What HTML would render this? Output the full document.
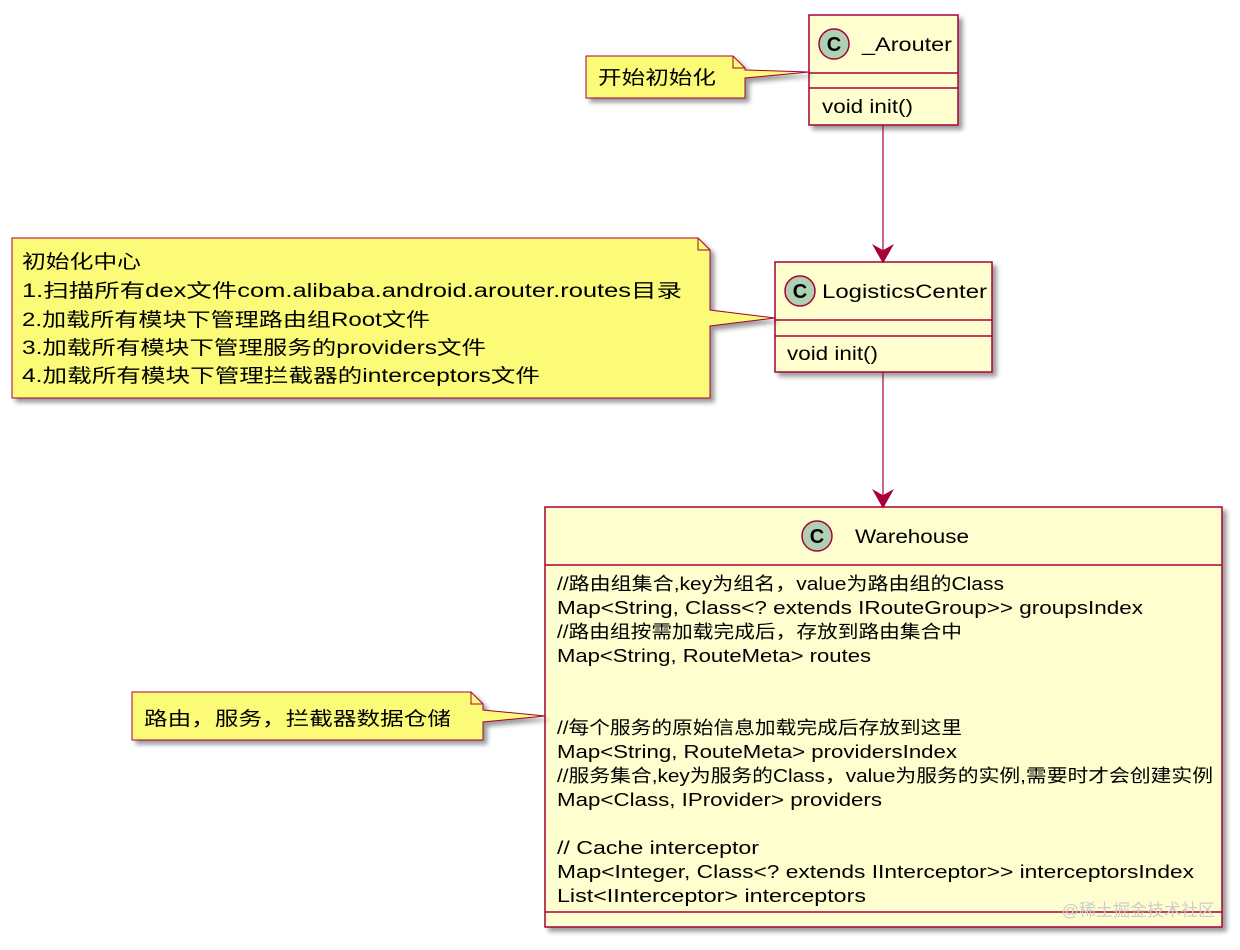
<!DOCTYPE html>
<html><head><meta charset="utf-8"><style>
html,body{margin:0;padding:0;background:#fff;}
svg text{font-family:"Liberation Sans","Noto Sans CJK SC",sans-serif;fill:#000;}
</style></head><body>
<svg width="1240" height="945" viewBox="0 0 1240 945" xmlns="http://www.w3.org/2000/svg">
<defs><filter id="sh" x="-10%" y="-10%" width="130%" height="130%"><feGaussianBlur in="SourceAlpha" stdDeviation="2.5"/><feOffset dx="4" dy="4"/><feComponentTransfer><feFuncA type="linear" slope="0.4"/></feComponentTransfer><feMerge><feMergeNode/><feMergeNode in="SourceGraphic"/></feMerge></filter></defs>
<g stroke="#A80036" stroke-width="1.5">
<rect x="809" y="15" width="149" height="110" fill="#FEFECE" filter="url(#sh)"/>
<line x1="809" y1="73" x2="958" y2="73"/><line x1="809" y1="88" x2="958" y2="88"/>
<circle cx="834" cy="44" r="15" fill="#ADD1B2"/>
<rect x="775" y="262" width="217" height="110" fill="#FEFECE" filter="url(#sh)"/>
<line x1="775" y1="320" x2="992" y2="320"/><line x1="775" y1="336" x2="992" y2="336"/>
<circle cx="800" cy="291" r="15" fill="#ADD1B2"/>
<rect x="545" y="507" width="677" height="420" fill="#FEFECE" filter="url(#sh)"/>
<line x1="545" y1="565" x2="1222" y2="565"/><line x1="545" y1="912" x2="1222" y2="912"/>
<circle cx="817" cy="536" r="15" fill="#ADD1B2"/>
<line x1="883" y1="125" x2="883" y2="258" stroke-width="1.2"/>
<path d="M874,246 L883,262 L892,246 L883,251 Z" fill="#A80036"/>
<line x1="883" y1="372" x2="883" y2="503" stroke-width="1.2"/>
<path d="M874,491 L883,507 L892,491 L883,496 Z" fill="#A80036"/>
<path d="M586,56 L733,56 L745,68 L745,70 L809,72 L745,78 L745,98 L586,98 Z" fill="#FBFB77" filter="url(#sh)" stroke-width="1"/>
<path d="M733,56 L733,68 L745,68" fill="none" stroke-width="1"/>
<path d="M12,238 L698,238 L710,250 L710,310 L775,318 L710,326 L710,398 L12,398 Z" fill="#FBFB77" filter="url(#sh)" stroke-width="1"/>
<path d="M698,238 L698,250 L710,250" fill="none" stroke-width="1"/>
<path d="M132,692 L471,692 L483,704 L483,710 L545,716 L483,722 L483,740 L132,740 Z" fill="#FBFB77" filter="url(#sh)" stroke-width="1"/>
<path d="M471,692 L471,704 L483,704" fill="none" stroke-width="1"/>
</g>
<g font-weight="bold" font-size="20">
<text x="834" y="51" text-anchor="middle">C</text>
<text x="800" y="298" text-anchor="middle">C</text>
<text x="817" y="543" text-anchor="middle">C</text>
</g>
<g font-size="19" lengthAdjust="spacingAndGlyphs">
<text x="862" y="51" textLength="90" lengthAdjust="spacingAndGlyphs">_Arouter</text>
<text x="822" y="113" textLength="91" lengthAdjust="spacingAndGlyphs">void init()</text>
<text x="822" y="298" textLength="165" lengthAdjust="spacingAndGlyphs">LogisticsCenter</text>
<text x="787" y="360" textLength="91" lengthAdjust="spacingAndGlyphs">void init()</text>
<text x="855" y="543" textLength="114" lengthAdjust="spacingAndGlyphs">Warehouse</text>
<text x="598" y="84" textLength="118" lengthAdjust="spacingAndGlyphs">开始初始化</text>
<text x="144" y="725" textLength="307" lengthAdjust="spacingAndGlyphs">路由，服务，拦截器数据仓储</text>
<text x="22" y="268" textLength="119" lengthAdjust="spacingAndGlyphs">初始化中心</text>
<text x="22" y="297" textLength="660" lengthAdjust="spacingAndGlyphs">1.扫描所有dex文件com.alibaba.android.arouter.routes目录</text>
<text x="22" y="326" textLength="408" lengthAdjust="spacingAndGlyphs">2.加载所有模块下管理路由组Root文件</text>
<text x="22" y="354" textLength="464" lengthAdjust="spacingAndGlyphs">3.加载所有模块下管理服务的providers文件</text>
<text x="22" y="382" textLength="518" lengthAdjust="spacingAndGlyphs">4.加载所有模块下管理拦截器的interceptors文件</text>
</g>
<g font-size="18">
<text x="557" y="590" textLength="447" lengthAdjust="spacingAndGlyphs">//路由组集合,key为组名，value为路由组的Class</text>
<text x="557" y="614" textLength="586" lengthAdjust="spacingAndGlyphs">Map&lt;String, Class&lt;? extends IRouteGroup&gt;&gt; groupsIndex</text>
<text x="557" y="638" textLength="405" lengthAdjust="spacingAndGlyphs">//路由组按需加载完成后，存放到路由集合中</text>
<text x="557" y="662" textLength="314" lengthAdjust="spacingAndGlyphs">Map&lt;String, RouteMeta&gt; routes</text>
<text x="557" y="734" textLength="405" lengthAdjust="spacingAndGlyphs">//每个服务的原始信息加载完成后存放到这里</text>
<text x="557" y="758" textLength="400" lengthAdjust="spacingAndGlyphs">Map&lt;String, RouteMeta&gt; providersIndex</text>
<text x="557" y="782" textLength="656" lengthAdjust="spacingAndGlyphs">//服务集合,key为服务的Class，value为服务的实例,需要时才会创建实例</text>
<text x="557" y="806" textLength="325" lengthAdjust="spacingAndGlyphs">Map&lt;Class, IProvider&gt; providers</text>
<text x="557" y="854" textLength="202" lengthAdjust="spacingAndGlyphs">// Cache interceptor</text>
<text x="557" y="878" textLength="637" lengthAdjust="spacingAndGlyphs">Map&lt;Integer, Class&lt;? extends IInterceptor&gt;&gt; interceptorsIndex</text>
<text x="557" y="902" textLength="309" lengthAdjust="spacingAndGlyphs">List&lt;IInterceptor&gt; interceptors</text>
</g>
<text x="1215" y="916" font-size="17" text-anchor="end" style="fill:#ccc">@稀土掘金技术社区</text>
</svg>
</body></html>
